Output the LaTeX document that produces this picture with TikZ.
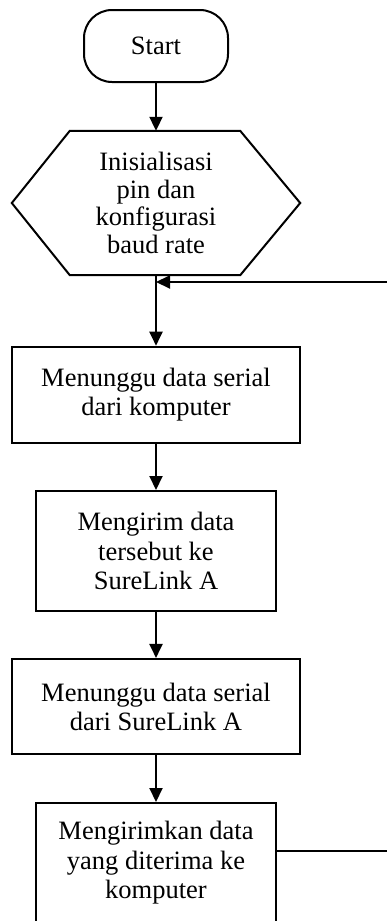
\documentclass[tikz,border=0pt]{standalone}
\usepackage{fontspec}
\setmainfont{Liberation Serif}
\usetikzlibrary{arrows.meta,calc}
\begin{document}
\begin{tikzpicture}[x=1pt,y=1pt,
  every node/.style={font=\fontsize{26.5}{29.5}\selectfont, align=center, inner sep=0pt},
  line/.style={line width=2pt},
  arr/.style={line width=2pt,-{Triangle[length=14pt,width=13pt]}},
  procbox/.style={draw, line width=2pt}]
\useasboundingbox (0,0) rectangle (387,-921);
\clip (0,0) rectangle (387,-921);
% start
\node[procbox, rounded corners=28pt, minimum width=144pt, minimum height=72pt] (start) at (156,-46) {Start};
% hexagon
\node[minimum width=288pt, minimum height=144pt] (init) at (156,-203) {Inisialisasi\\[-2pt]pin dan\\[-2pt]konfigurasi\\[-2pt]baud rate};
\draw[line] (init.west) -- ($(init.north west)+(58pt,0)$) -- ($(init.north east)+(-60pt,0)$) -- (init.east) -- ($(init.south east)+(-60pt,0)$) -- ($(init.south west)+(58pt,0)$) -- cycle;
% boxes
\node[procbox, minimum width=288pt, minimum height=96pt] (b1) at (156,-394.7) {Menunggu data serial\\dari komputer};
\node[procbox, minimum width=240pt, minimum height=120pt] (b2) at (156,-551) {Mengirim data\\tersebut ke\\SureLink A};
\node[procbox, minimum width=288pt, minimum height=95.5pt] (b3) at (156,-706.7) {Menunggu data serial\\dari SureLink A};
\node[procbox, minimum width=240pt, minimum height=120pt] (b4) at (156,-863) {Mengirimkan data\\yang diterima ke\\komputer};
% connectors
\draw[arr] (start.south) -- (init.north);
\coordinate (j) at (156,-282);
\coordinate (rt) at (390,-282);
\coordinate (rb) at (390,-851);
\draw[arr] (init.south) -- (b1.north);
\draw[arr] (rt) -- (j);
\draw[arr] (b1.south) -- (b2.north);
\draw[arr] (b2.south) -- (b3.north);
\draw[arr] (b3.south) -- (b4.north);
\draw[line] (b4.east |- rb) -- (rb);
\end{tikzpicture}
\end{document}
